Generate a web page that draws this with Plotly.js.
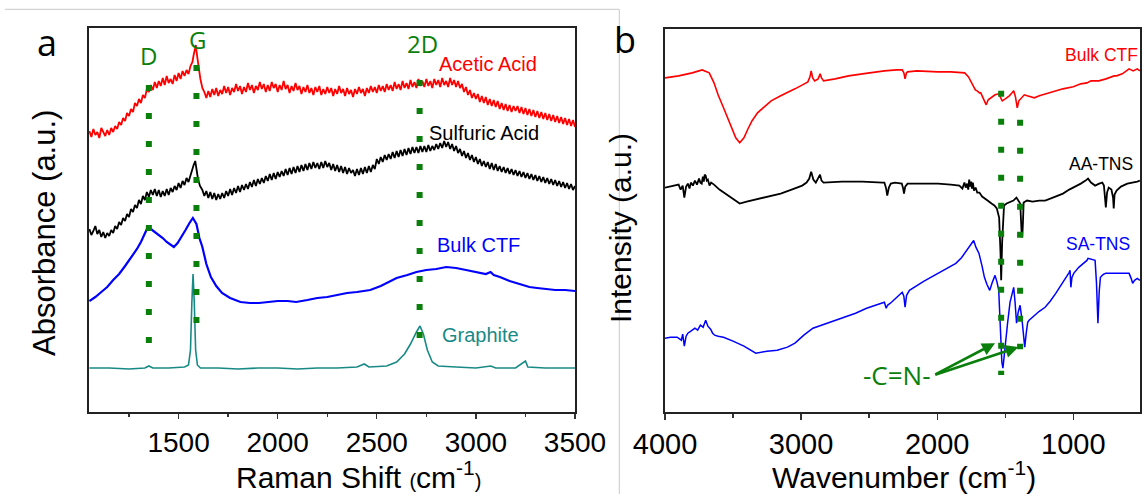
<!DOCTYPE html>
<html><head><meta charset="utf-8">
<script src="https://cdn.plot.ly/plotly-3.0.1.min.js"></script>
<style>html,body{margin:0;padding:0;background:#fff}#chart{width:1143px;height:494px}</style>
</head><body><div id="chart"></div>
<script>
// ---------- Panel a : Raman (x = Raman shift, y = relative absorbance, a.u.) ----------
const aceticX = [1050,1060,1070,1080,1090,1100,1110,1120,1130,1140,1150,1160,1170,1180,1190,1200,1210,1220,1230,1240,1250,1260,1270,1280,1290,1300,1310,1320,1330,1340,1350,1360,1370,1380,1390,1400,1410,1420,1430,1440,1450,1460,1470,1480,1490,1500,1510,1520,1530,1540,1550,1560,1570,1575,1582,1587,1592,1600,1610,1620,1630,1640,1650,1660,1670,1680,1690,1700,1710,1720,1730,1740,1750,1760,1770,1780,1790,1800,1810,1820,1830,1840,1850,1860,1870,1880,1890,1900,1910,1920,1930,1940,1950,1960,1970,1980,1990,2000,2010,2020,2030,2040,2050,2060,2070,2080,2090,2100,2110,2120,2130,2140,2150,2160,2170,2180,2190,2200,2210,2220,2230,2240,2250,2260,2270,2280,2290,2300,2310,2320,2330,2340,2350,2360,2370,2380,2390,2400,2410,2420,2430,2440,2450,2460,2470,2480,2490,2500,2510,2520,2530,2540,2550,2560,2570,2580,2590,2600,2610,2620,2630,2640,2650,2660,2670,2680,2690,2700,2710,2720,2730,2740,2750,2760,2770,2780,2790,2800,2810,2820,2830,2840,2850,2860,2870,2880,2890,2900,2910,2920,2930,2940,2950,2960,2970,2980,2990,3000,3010,3020,3030,3040,3050,3060,3070,3080,3090,3100,3110,3120,3130,3140,3150,3160,3170,3180,3190,3200,3210,3220,3230,3240,3250,3260,3270,3280,3290,3300,3310,3320,3330,3340,3350,3360,3370,3380,3390,3400,3410,3420,3430,3440,3450,3460,3470,3480,3490,3500];
const aceticY = [281,275,283,277,280,274,284,279,276,282,277,284,280,286,283,290,287,294,291,299,296,303,300,309,306,313,309,317,314,323,320,327,322,330,324,331,326,334,327,336,329,333,328,337,331,339,333,341,336,342,338,346,350,356,362,367,358,345,333,324,320,314,321,315,323,317,324,316,322,318,326,319,325,317,324,320,328,321,326,318,325,320,329,322,327,319,326,322,330,323,328,320,327,321,330,324,328,320,327,322,331,323,327,319,326,321,329,322,326,318,325,320,327,319,324,317,325,320,326,317,323,318,325,319,324,316,323,318,326,319,323,316,324,318,322,315,323,318,325,319,323,316,324,319,326,320,325,319,327,321,326,320,328,322,327,321,330,323,328,322,331,324,329,323,332,325,330,324,333,326,331,325,333,326,331,324,333,327,332,325,334,327,331,325,334,327,332,325,331,324,328,320,325,317,322,314,319,313,318,310,316,309,315,307,313,306,312,305,311,303,309,302,308,301,307,300,306,301,306,299,305,298,304,297,303,296,302,295,301,294,300,293,299,292,298,291,297,290,296,289,295,288,294,287,293,286,292,285,291,287];

const sulfuricX = [1050,1060,1070,1080,1090,1100,1110,1120,1130,1140,1150,1160,1170,1180,1190,1200,1210,1220,1230,1240,1250,1260,1270,1280,1290,1300,1310,1320,1330,1340,1350,1360,1370,1380,1390,1400,1410,1420,1430,1440,1450,1460,1470,1480,1490,1500,1510,1520,1530,1540,1550,1560,1568,1576,1584,1590,1598,1608,1620,1630,1640,1650,1660,1670,1680,1690,1700,1710,1720,1730,1740,1750,1760,1770,1780,1790,1800,1810,1820,1830,1840,1850,1860,1870,1880,1890,1900,1910,1920,1930,1940,1950,1960,1970,1980,1990,2000,2010,2020,2030,2040,2050,2060,2070,2080,2090,2100,2110,2120,2130,2140,2150,2160,2170,2180,2190,2200,2210,2220,2230,2240,2250,2260,2270,2280,2290,2300,2310,2320,2330,2340,2350,2360,2370,2380,2390,2400,2410,2420,2430,2440,2450,2460,2470,2480,2490,2500,2510,2520,2530,2540,2550,2560,2570,2580,2590,2600,2610,2620,2630,2640,2650,2660,2670,2680,2690,2700,2710,2720,2730,2740,2750,2760,2770,2780,2790,2800,2810,2820,2830,2840,2850,2860,2870,2880,2890,2900,2910,2920,2930,2940,2950,2960,2970,2980,2990,3000,3010,3020,3030,3040,3050,3060,3070,3080,3090,3100,3110,3120,3130,3140,3150,3160,3170,3180,3190,3200,3210,3220,3230,3240,3250,3260,3270,3280,3290,3300,3310,3320,3330,3340,3350,3360,3370,3380,3390,3400,3410,3420,3430,3440,3450,3460,3470,3480,3490,3500];
const sulfuricY = [183,177,181,186,178,182,175,180,174,179,176,182,179,186,183,190,187,194,191,198,195,203,200,207,204,212,208,216,212,220,215,222,217,223,216,222,215,221,216,223,217,224,220,226,222,229,224,231,227,234,230,237,241,247,251,243,233,226,222,216,221,214,220,213,219,212,218,213,219,214,221,216,223,217,224,219,226,220,227,222,228,223,230,225,232,226,233,228,234,229,236,231,238,232,239,233,240,235,241,236,243,237,244,238,245,239,246,240,247,241,248,242,249,243,250,244,249,243,250,244,251,245,249,242,248,241,247,240,246,239,245,238,244,239,242,236,243,237,244,238,245,239,246,240,247,243,253,248,255,250,257,252,258,253,260,254,261,255,262,256,263,257,264,258,265,259,265,259,266,260,266,260,267,261,266,262,268,263,269,264,271,265,270,263,268,261,266,259,263,256,261,254,259,252,257,250,255,248,253,246,251,245,250,243,249,242,248,241,246,240,245,239,244,238,243,237,242,236,241,235,240,234,239,233,238,232,237,231,236,230,235,229,234,228,233,227,232,226,231,225,230,224,229,223,228,222,226];

const bulkRamanX = [1050,1080,1110,1140,1170,1200,1230,1260,1290,1310,1330,1345,1360,1380,1400,1420,1440,1460,1476,1495,1515,1535,1555,1572,1590,1605,1620,1640,1663,1690,1719,1760,1812,1860,1906,1950,2000,2050,2093,2150,2200,2250,2300,2350,2400,2467,2520,2560,2600,2654,2700,2750,2800,2850,2900,2950,3000,3050,3074,3090,3121,3170,3220,3270,3309,3350,3400,3450,3500];
const bulkRamanY = [111,115,120,125,132,138,146,154,163,170,178,185,183,180,177,174,170,167,165,169,175,182,189,194,188,174,165,148,135,126,119,114,110,109,109,110,111,111,110,112,114,115,117,119,120,122,126,130,134,137,140,142,143,145,144,142,140,138,140,137,135,131,128,125,124,123,122,122,121];

const graphiteX = [1050,1150,1250,1330,1350,1370,1450,1530,1550,1560,1567,1573,1579,1586,1595,1610,1700,1800,1900,2000,2100,2200,2300,2400,2437,2460,2550,2600,2640,2670,2700,2718,2735,2755,2780,2810,2900,3000,3075,3100,3200,3240,3250,3262,3350,3450,3500];
const graphiteY = [44,44,43,44,46,44,44,45,47,62,110,138,110,62,47,44,44,43,44,44,43,44,44,45,48,45,46,50,58,68,80,86,78,62,50,46,45,44,46,44,44,49,51,45,44,44,44];

// peak markers (D, G, 2D) and their vertical extents
const ramanPeakNames = ["D", "G", "2D"];
const ramanPeakX = [1350, 1590, 2716];
const ramanPeakTop = [327, 347, 332];
const ramanPeakBottom = [69, 88, 73];

// ---------- Panel b : FTIR (x = wavenumber, y = relative intensity, a.u.) ----------
const ftirBulkX = [4000,3900,3800,3727,3690,3675,3640,3610,3570,3520,3480,3451,3420,3390,3360,3320,3281,3220,3150,3100,3045,2990,2950,2935,2926,2915,2900,2875,2860,2850,2835,2750,2651,2550,2450,2388,2300,2257,2245,2236,2226,2218,2150,2050,1995,1900,1798,1770,1745,1720,1706,1690,1680,1660,1640,1625,1601,1575,1548,1535,1522,1500,1470,1450,1438,1425,1412,1400,1378,1360,1339,1310,1286,1250,1207,1150,1076,1000,945,900,870,813,760,700,682,640,590,560,530,511];
const ftirBulkY = [335,337,340,343,341,340,330,318,305,288,275,270,275,284,292,300,305,312,317,320,324,328,331,336,342,335,332,334,339,335,332,334,337,339,341,342,343,343,340,334,340,341,342,341,341,341,340,336,330,323,322,320,320,314,308,313,315,318,319,315,312,314,317,320,322,316,305,312,315,318,317,316,315,317,319,321,324,326,329,330,332,332,334,337,337,339,344,342,344,342];

const ftirAAX = [4000,3970,3937,3900,3885,3870,3858,3845,3832,3820,3810,3795,3780,3765,3750,3740,3730,3722,3715,3708,3701,3693,3685,3673,3661,3640,3600,3570,3510,3451,3400,3307,3250,3150,3070,2992,2960,2940,2926,2910,2892,2875,2861,2850,2835,2700,2550,2400,2388,2375,2367,2355,2341,2310,2260,2250,2244,2235,2218,2100,1995,1900,1837,1815,1800,1790,1780,1772,1765,1758,1750,1745,1738,1730,1718,1706,1690,1670,1653,1630,1601,1580,1562,1545,1535,1530,1523,1515,1509,1490,1470,1440,1418,1400,1390,1380,1375,1370,1365,1340,1300,1250,1207,1150,1076,1030,1000,945,910,892,870,855,840,810,787,775,768,761,752,740,720,708,703,697,682,650,603,560,530,511];
const ftirAAY = [225,226,227,228,223,227,215,226,229,224,230,227,232,228,234,230,229,236,231,238,237,232,233,227,230,228,223,220,214,209,211,214,216,219,223,227,230,234,241,233,230,234,238,232,230,231,231,230,230,224,217,225,229,230,229,224,219,226,229,229,229,228,227,224,230,225,229,223,233,226,231,224,230,222,225,220,220,216,214,212,209,207,204,195,160,132,170,200,207,209,210,212,215,211,209,180,175,190,210,212,211,212,212,215,219,223,225,229,232,234,230,228,227,229,230,227,212,205,220,225,223,215,204,218,222,226,229,230,231,232];

const ftirSAX = [4000,3960,3911,3880,3870,3858,3845,3832,3810,3780,3760,3740,3720,3701,3685,3665,3650,3635,3610,3570,3500,3420,3333,3250,3176,3100,3045,2980,2913,2850,2782,2700,2600,2519,2450,2388,2375,2365,2336,2300,2257,2245,2236,2225,2204,2100,1995,1930,1863,1820,1784,1760,1740,1732,1715,1693,1670,1653,1635,1614,1595,1575,1560,1548,1541,1535,1525,1517,1505,1495,1483,1465,1450,1438,1428,1417,1405,1391,1375,1365,1357,1345,1335,1325,1280,1250,1207,1170,1129,1090,1050,1030,1024,1018,1010,997,960,918,900,892,870,850,840,830,819,810,801,780,761,700,650,600,590,575,564,550,530,511];
const ftirSAY = [74,75,75,72,78,66,76,79,81,84,82,87,85,92,86,83,79,77,76,75,71,66,59,61,62,65,69,77,84,87,90,94,99,104,107,110,104,107,110,115,120,116,105,117,122,131,139,144,149,155,162,166,170,172,165,159,146,135,128,122,130,137,130,122,100,72,50,44,60,78,89,110,120,125,110,89,100,107,90,72,65,80,90,92,98,101,105,111,119,127,135,140,142,125,135,139,145,150,152,154,153,152,152,130,89,120,135,138,139,139,139,139,139,134,129,132,134,132];

// C=N band markers
const ftirBandX = [1530, 1391];
const ftirBandTop = [322, 293];
const ftirBandBottom = [37, 63];
const ftirArrowHeadX = [1575, 1404];
const ftirArrowHeadY = [69, 65];

// ---------- figure ----------
const GREEN = '#0b7f0b';
const dotLine = {color: GREEN, width: 6, dash: '6px,22px'};
const traces = [];
function line(x, y, color, width, xa, ya) {
  traces.push({x: x, y: y, mode: 'lines', line: {color: color, width: width}, xaxis: xa, yaxis: ya, hoverinfo: 'skip', showlegend: false});
}
line(aceticX, aceticY, '#ff0000', 1.8, 'x', 'y');
line(sulfuricX, sulfuricY, '#000000', 1.8, 'x', 'y');
line(bulkRamanX, bulkRamanY, '#0000ff', 2.2, 'x', 'y');
line(graphiteX, graphiteY, '#188a86', 1.6, 'x', 'y');
ramanPeakX.forEach((px, i) => {
  traces.push({x: [px, px], y: [ramanPeakTop[i], ramanPeakBottom[i]], mode: 'lines', line: dotLine, xaxis: 'x', yaxis: 'y', hoverinfo: 'skip', showlegend: false});
});
line(ftirBulkX, ftirBulkY, '#ff0000', 1.6, 'x2', 'y2');
line(ftirAAX, ftirAAY, '#000000', 1.8, 'x2', 'y2');
line(ftirSAX, ftirSAY, '#0000ff', 1.5, 'x2', 'y2');
ftirBandX.forEach((px, i) => {
  traces.push({x: [px, px], y: [ftirBandTop[i], ftirBandBottom[i]], mode: 'lines', line: dotLine, xaxis: 'x2', yaxis: 'y2', hoverinfo: 'skip', showlegend: false});
});

const W = 1143, H = 494;
const px = v => v / W, py = v => 1 - v / H;
const ARIAL = 'Arial, "Liberation Sans", sans-serif';
const SANS = '"Open Sans", "Noto Sans", sans-serif';

const axisCommon = {showgrid: false, zeroline: false, showline: true, mirror: true, linecolor: '#222', linewidth: 1.6,
  ticks: 'outside', tickcolor: '#333', tickwidth: 1.4, fixedrange: true};
const yCommon = {showgrid: false, zeroline: false, showline: true, mirror: true, linecolor: '#222', linewidth: 1.6,
  showticklabels: false, ticks: '', range: [0, 384], fixedrange: true};

const ann = [];
function txt(text, x, y, size, color, family, extra) {
  ann.push(Object.assign({text: text, xref: 'paper', yref: 'paper', x: px(x), y: py(y), xanchor: 'center', yanchor: 'middle',
    showarrow: false, font: {size: size, color: color, family: family}}, extra || {}));
}
txt('a', 47, 42, 36, '#000', SANS);
txt('b', 625, 40, 36, '#000', SANS);
ramanPeakNames.forEach((n, i) => {
  const pos = [[148, 56], [197, 40], [422, 44]][i];
  txt(n, pos[0], pos[1], 24, GREEN, SANS);
});
txt('Acetic Acid', 488, 64, 20, '#ff0000', ARIAL);
txt('Sulfuric Acid', 484, 133, 20, '#000', ARIAL);
txt('Bulk CTF', 478, 245, 20, '#0000ff', ARIAL);
txt('Graphite', 480, 335, 20, '#188a86', ARIAL);
txt('Bulk CTF', 1101, 55, 17.5, '#ff0000', ARIAL);
txt('AA-TNS', 1101, 164, 17.5, '#000', ARIAL);
txt('SA-TNS', 1098, 244, 17.5, '#0000ff', ARIAL);
txt('Absorbance (a.u.)', 44, 233, 31, '#000', ARIAL, {textangle: -90});
txt('Intensity (a.u.)', 620, 228, 30, '#000', ARIAL, {textangle: -90});
txt('Raman Shift <span style="font-size:20px">(</span>cm<sup>-1</sup><span style="font-size:20px">)</span>', 359, 475, 30, '#000', ARIAL);
txt('Wavenumber (cm<sup>-1</sup>)', 904, 475, 30, '#000', ARIAL);
txt('-C=N-', 897, 375, 26, GREEN, SANS);
// arrows toward the C=N bands
const tail = [[935, 375], [935, 375]];
ftirArrowHeadX.forEach((hx, i) => {
  const hpx = 664.7 + (4000 - hx) / 1000 * 136.7;
  const hpy = 412 - ftirArrowHeadY[i];
  ann.push({x: hx, y: ftirArrowHeadY[i], xref: 'x2', yref: 'y2', text: '', showarrow: true,
    ax: tail[i][0] - hpx, ay: tail[i][1] - hpy, arrowcolor: GREEN, arrowwidth: 2.6, arrowhead: 2, arrowsize: 1});
});

const layout = {
  width: W, height: H, margin: {l: 0, r: 0, t: 0, b: 0}, paper_bgcolor: '#fff', plot_bgcolor: '#fff',
  showlegend: false, font: {family: ARIAL, color: '#000'},
  xaxis: Object.assign({}, axisCommon, {domain: [px(89), px(575)], range: [1048, 3500], tickvals: [1500, 2000, 2500, 3000, 3500],
    ticklen: 5, tickfont: {size: 28, family: ARIAL, color: '#000'},
    minor: {tickvals: [1250, 1750, 2250, 2750, 3250], ticks: 'outside', ticklen: 3, tickcolor: '#333', tickwidth: 1.4}, anchor: 'y'}),
  yaxis: Object.assign({}, yCommon, {domain: [1 - 412 / H, 1 - 28 / H], anchor: 'x'}),
  xaxis2: Object.assign({}, axisCommon, {domain: [px(665), px(1140)], range: [4000, 510], tickvals: [4000, 3000, 2000, 1000],
    ticklen: 6, tickfont: {size: 29, family: ARIAL, color: '#000'},
    minor: {tickvals: [3500, 2500, 1500], ticks: 'outside', ticklen: 4, tickcolor: '#333', tickwidth: 1.4}, anchor: 'y2'}),
  yaxis2: Object.assign({}, yCommon, {domain: [1 - 412 / H, 1 - 29 / H], anchor: 'x2'}),
  annotations: ann,
  shapes: [
    {type: 'line', xref: 'paper', yref: 'paper', x0: px(5), x1: px(619), y0: py(9.3), y1: py(9.3), line: {color: '#c8c8c8', width: 1}},
    {type: 'line', xref: 'paper', yref: 'paper', x0: px(619.3), x1: px(619.3), y0: py(9.3), y1: 0, line: {color: '#c8c8c8', width: 1}}
  ]
};
Plotly.newPlot('chart', traces, layout, {displayModeBar: false, staticPlot: true});
</script>
</body></html>
